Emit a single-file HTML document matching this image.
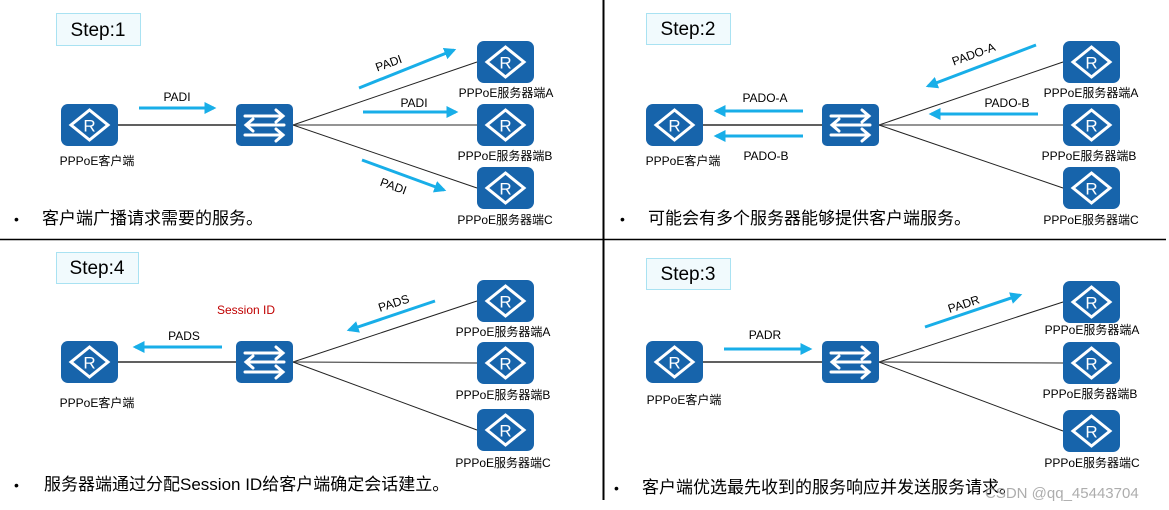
<!DOCTYPE html>
<html><head><meta charset="utf-8"><style>
html,body{margin:0;padding:0;background:#fff;}
svg{display:block;font-family:"Liberation Sans","Noto Sans CJK SC",sans-serif;}
</style></head><body>
<svg width="1169" height="510" viewBox="0 0 1169 510" xmlns="http://www.w3.org/2000/svg">
<defs>
<g id="rt">
<rect x="0" y="0" width="57" height="42" rx="7" fill="#1764ab"/>
<polygon points="28.5,6 47,21 28.5,36 10,21" fill="none" stroke="#fff" stroke-width="3"/>
<text x="28.5" y="27.5" font-size="17" fill="#fff" text-anchor="middle" font-family="Liberation Sans,sans-serif">R</text>
</g>
<g id="sw">
<rect x="0" y="0" width="57" height="42" rx="5" fill="#1764ab"/>
<g stroke="#fff" stroke-width="3" fill="none" stroke-linecap="round">
<path d="M9 12 H47 M40 6 L47 12 L40 18"/>
<path d="M48 21 H10 M17 15 L10 21 L17 27"/>
<path d="M9 31 H47 M40 25 L47 31 L40 37"/>
</g>
</g>
<marker id="ah" viewBox="0 0 10 10" refX="8" refY="5" markerWidth="4" markerHeight="4" orient="auto-start-reverse"><path d="M0 0 L10 5 L0 10 z" fill="#18aee8"/></marker>
</defs>

<!-- dividers -->
<line x1="603.5" y1="0" x2="603.5" y2="500" stroke="#000" stroke-width="2"/>
<line x1="0" y1="239.5" x2="1166" y2="239.5" stroke="#000" stroke-width="1.5"/>

<g font-size="12" fill="#000">
<!-- Q1 -->
<rect x="56.5" y="13.5" width="84" height="32" fill="#f1fafd" stroke="#a9e2f2"/>
<text x="98" y="36" font-size="19" text-anchor="middle">Step:1</text>
<line x1="118" y1="125" x2="236" y2="125" stroke="#000" stroke-width="1.3"/>
<line x1="293" y1="125" x2="477" y2="62" stroke="#222"/>
<line x1="293" y1="125" x2="477" y2="125" stroke="#555" stroke-width="1.3"/>
<line x1="293" y1="125" x2="477" y2="188" stroke="#222"/>
<use href="#rt" x="61" y="104"/>
<use href="#sw" x="236" y="104"/>
<use href="#rt" x="477" y="41"/>
<use href="#rt" x="477" y="104"/>
<use href="#rt" x="477" y="167"/>
<text x="97" y="165" text-anchor="middle">PPPoE客户端</text>
<text x="506" y="97" text-anchor="middle">PPPoE服务器端A</text>
<text x="505" y="160" text-anchor="middle">PPPoE服务器端B</text>
<text x="505" y="224" text-anchor="middle">PPPoE服务器端C</text>
<g stroke="#18aee8" stroke-width="3" marker-end="url(#ah)">
<line x1="139" y1="108" x2="214" y2="108"/>
<line x1="359" y1="88" x2="454" y2="50"/>
<line x1="363" y1="112" x2="456" y2="112"/>
<line x1="362" y1="160" x2="444" y2="190"/>
</g>
<text x="177" y="101" text-anchor="middle">PADI</text>
<text x="414" y="107" text-anchor="middle">PADI</text>
<text x="390" y="67" text-anchor="middle" transform="rotate(-20 390 67)">PADI</text>
<text x="392" y="190" text-anchor="middle" transform="rotate(20 392 190)">PADI</text>
<text x="14" y="224" font-size="14">•</text>
<text x="42" y="224" font-size="17">客户端广播请求需要的服务。</text>

<!-- Q2 -->
<rect x="646.5" y="13.5" width="84" height="31" fill="#f1fafd" stroke="#a9e2f2"/>
<text x="688" y="35" font-size="19" text-anchor="middle">Step:2</text>
<line x1="703" y1="125" x2="822" y2="125" stroke="#000" stroke-width="1.3"/>
<line x1="879" y1="125" x2="1063" y2="62" stroke="#222"/>
<line x1="879" y1="125" x2="1063" y2="125" stroke="#555" stroke-width="1.3"/>
<line x1="879" y1="125" x2="1063" y2="188" stroke="#222"/>
<use href="#rt" x="646" y="104"/>
<use href="#sw" x="822" y="104"/>
<use href="#rt" x="1063" y="41"/>
<use href="#rt" x="1063" y="104"/>
<use href="#rt" x="1063" y="167"/>
<text x="683" y="165" text-anchor="middle">PPPoE客户端</text>
<text x="1091" y="97" text-anchor="middle">PPPoE服务器端A</text>
<text x="1089" y="160" text-anchor="middle">PPPoE服务器端B</text>
<text x="1091" y="224" text-anchor="middle">PPPoE服务器端C</text>
<g stroke="#18aee8" stroke-width="3" marker-end="url(#ah)">
<line x1="803" y1="111" x2="716" y2="111"/>
<line x1="803" y1="136" x2="716" y2="136"/>
<line x1="1036" y1="45" x2="928" y2="86"/>
<line x1="1038" y1="114" x2="931" y2="114"/>
</g>
<text x="765" y="102" text-anchor="middle">PADO-A</text>
<text x="766" y="160" text-anchor="middle">PADO-B</text>
<text x="1007" y="107" text-anchor="middle">PADO-B</text>
<text x="975" y="58" text-anchor="middle" transform="rotate(-20 975 58)">PADO-A</text>
<text x="620" y="224" font-size="14">•</text>
<text x="648" y="224" font-size="17">可能会有多个服务器能够提供客户端服务。</text>

<!-- Q4 -->
<rect x="56.5" y="252.5" width="82" height="31" fill="#f1fafd" stroke="#a9e2f2"/>
<text x="97" y="274" font-size="19" text-anchor="middle">Step:4</text>
<line x1="118" y1="362" x2="236" y2="362" stroke="#000" stroke-width="1.3"/>
<line x1="293" y1="362" x2="477" y2="301" stroke="#222"/>
<line x1="293" y1="362" x2="477" y2="363" stroke="#555" stroke-width="1.3"/>
<line x1="293" y1="362" x2="477" y2="430" stroke="#222"/>
<use href="#rt" x="61" y="341"/>
<use href="#sw" x="236" y="341"/>
<use href="#rt" x="477" y="280"/>
<use href="#rt" x="477" y="342"/>
<use href="#rt" x="477" y="409"/>
<text x="97" y="407" text-anchor="middle">PPPoE客户端</text>
<text x="503" y="336" text-anchor="middle">PPPoE服务器端A</text>
<text x="503" y="399" text-anchor="middle">PPPoE服务器端B</text>
<text x="503" y="467" text-anchor="middle">PPPoE服务器端C</text>
<text x="246" y="314" text-anchor="middle" fill="#c00000">Session  ID</text>
<g stroke="#18aee8" stroke-width="3" marker-end="url(#ah)">
<line x1="222" y1="347" x2="135" y2="347"/>
<line x1="435" y1="301" x2="349" y2="330"/>
</g>
<text x="184" y="340" text-anchor="middle">PADS</text>
<text x="395" y="307" text-anchor="middle" transform="rotate(-18 395 307)">PADS</text>
<text x="14" y="490" font-size="14">•</text>
<text x="44" y="490" font-size="17">服务器端通过分配Session ID给客户端确定会话建立。</text>

<!-- Q3 -->
<rect x="646.5" y="258.5" width="84" height="31" fill="#f1fafd" stroke="#a9e2f2"/>
<text x="688" y="280" font-size="19" text-anchor="middle">Step:3</text>
<line x1="703" y1="362" x2="822" y2="362" stroke="#000" stroke-width="1.3"/>
<line x1="879" y1="362" x2="1063" y2="302" stroke="#222"/>
<line x1="879" y1="362" x2="1063" y2="363" stroke="#555" stroke-width="1.3"/>
<line x1="879" y1="362" x2="1063" y2="431" stroke="#222"/>
<use href="#rt" x="646" y="341"/>
<use href="#sw" x="822" y="341"/>
<use href="#rt" x="1063" y="281"/>
<use href="#rt" x="1063" y="342"/>
<use href="#rt" x="1063" y="410"/>
<text x="684" y="404" text-anchor="middle">PPPoE客户端</text>
<text x="1092" y="334" text-anchor="middle">PPPoE服务器端A</text>
<text x="1090" y="398" text-anchor="middle">PPPoE服务器端B</text>
<text x="1092" y="467" text-anchor="middle">PPPoE服务器端C</text>
<g stroke="#18aee8" stroke-width="3" marker-end="url(#ah)">
<line x1="724" y1="349" x2="810" y2="349"/>
<line x1="925" y1="327" x2="1020" y2="295"/>
</g>
<text x="765" y="339" text-anchor="middle">PADR</text>
<text x="965" y="308" text-anchor="middle" transform="rotate(-18 965 308)">PADR</text>
<text x="614" y="493" font-size="14">•</text>
<text x="642" y="493" font-size="17">客户端优选最先收到的服务响应并发送服务请求。</text>
<text x="985" y="498" font-size="15" fill="#999" fill-opacity="0.8">CSDN @qq_45443704</text>
</g>
</svg>
</body></html>
